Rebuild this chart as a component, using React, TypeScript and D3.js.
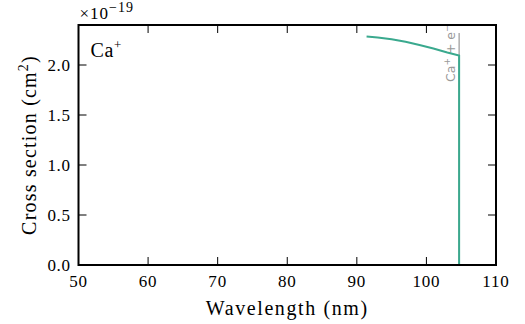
import React from "react";
import * as d3 from "d3";

const wavelengths = [91.4, 93.0, 95.0, 97.0, 99.0, 101.0, 103.0, 104.7, 104.7];
const crossSection = [2.285, 2.275, 2.258, 2.232, 2.2, 2.165, 2.125, 2.095, 0.0];
const xTicks = [50, 60, 70, 80, 90, 100, 110];
const yTicks = [0.0, 0.5, 1.0, 1.5, 2.0];
const edgeWavelength = 104.7;
const panelLabel = "Ca";

const W = 525, H = 324;
const M = { left: 78.5, right: 29, top: 25, bottom: 59 };
const SERIF = "'Liberation Serif', 'Times New Roman', serif";

export default function App() {
  const x = d3.scaleLinear().domain([50, 110]).range([M.left, W - M.right]);
  const y = d3.scaleLinear().domain([0, 2.4]).range([H - M.bottom, M.top]);
  const line = d3.line<number>().x((_, i) => x(wavelengths[i])).y((d) => y(d));
  const x0 = x.range()[0], x1 = x.range()[1], y0 = y.range()[0], y1 = y.range()[1];
  const tl = 8;
  return (
    <svg width={W} height={H} style={{ position: "absolute", left: 0, top: 0, background: "#fff" }}>
      <line x1={x(edgeWavelength)} x2={x(edgeWavelength)} y1={y(0)} y2={y(2.32)} stroke="#999" strokeWidth={1.2} />
      <text transform={`translate(${x(edgeWavelength) - 4},${y(1.83)}) rotate(-90)`} fontFamily="'DejaVu Sans', sans-serif" fontSize={12.5} fill="#999">
        Ca<tspan dy={-5} fontSize={9}>+</tspan><tspan dy={5}> + e</tspan><tspan dy={-5} fontSize={9}>−</tspan>
      </text>
      <path d={line(crossSection) || ""} fill="none" stroke="#3aa98e" strokeWidth={2} />
      {xTicks.map((t) => (
        <g key={"x" + t}>
          <line x1={x(t)} x2={x(t)} y1={y0} y2={y0 - tl} stroke="#000" strokeWidth={1} />
          <line x1={x(t)} x2={x(t)} y1={y1} y2={y1 + tl} stroke="#000" strokeWidth={1} />
          <text x={x(t)} y={y0 + 22} textAnchor="middle" fontFamily={SERIF} fontSize={17} letterSpacing={0.8}>{t}</text>
        </g>
      ))}
      {yTicks.map((t) => (
        <g key={"y" + t}>
          <line x1={x0} x2={x0 + tl} y1={y(t)} y2={y(t)} stroke="#000" strokeWidth={1} />
          <line x1={x1} x2={x1 - tl} y1={y(t)} y2={y(t)} stroke="#000" strokeWidth={1} />
          <text x={x0 - 8} y={y(t) + 6} textAnchor="end" fontFamily={SERIF} fontSize={17} letterSpacing={0.6}>{t.toFixed(1)}</text>
        </g>
      ))}
      <rect x={x0} y={y1} width={x1 - x0} height={y0 - y1} fill="none" stroke="#000" strokeWidth={2} />
      <text x={x0 + 1} y={y1 - 6} fontFamily={SERIF} fontSize={17} letterSpacing={1}>×10<tspan dy={-7} fontSize={14}>−19</tspan></text>
      <text x={x0 + 12} y={y1 + 32} fontFamily={SERIF} fontSize={20} letterSpacing={0.6}>{panelLabel}<tspan dy={-8} fontSize={13}>+</tspan></text>
      <text x={(x0 + x1) / 2} y={H - 9} textAnchor="middle" fontFamily={SERIF} fontSize={20} letterSpacing={1.6}>Wavelength (nm)</text>
      <text transform={`translate(36,${(y0 + y1) / 2}) rotate(-90)`} textAnchor="middle" fontFamily={SERIF} fontSize={20} letterSpacing={1.2}>
        Cross section (cm<tspan dy={-8} fontSize={14}>2</tspan><tspan dy={8}>)</tspan>
      </text>
    </svg>
  );
}
